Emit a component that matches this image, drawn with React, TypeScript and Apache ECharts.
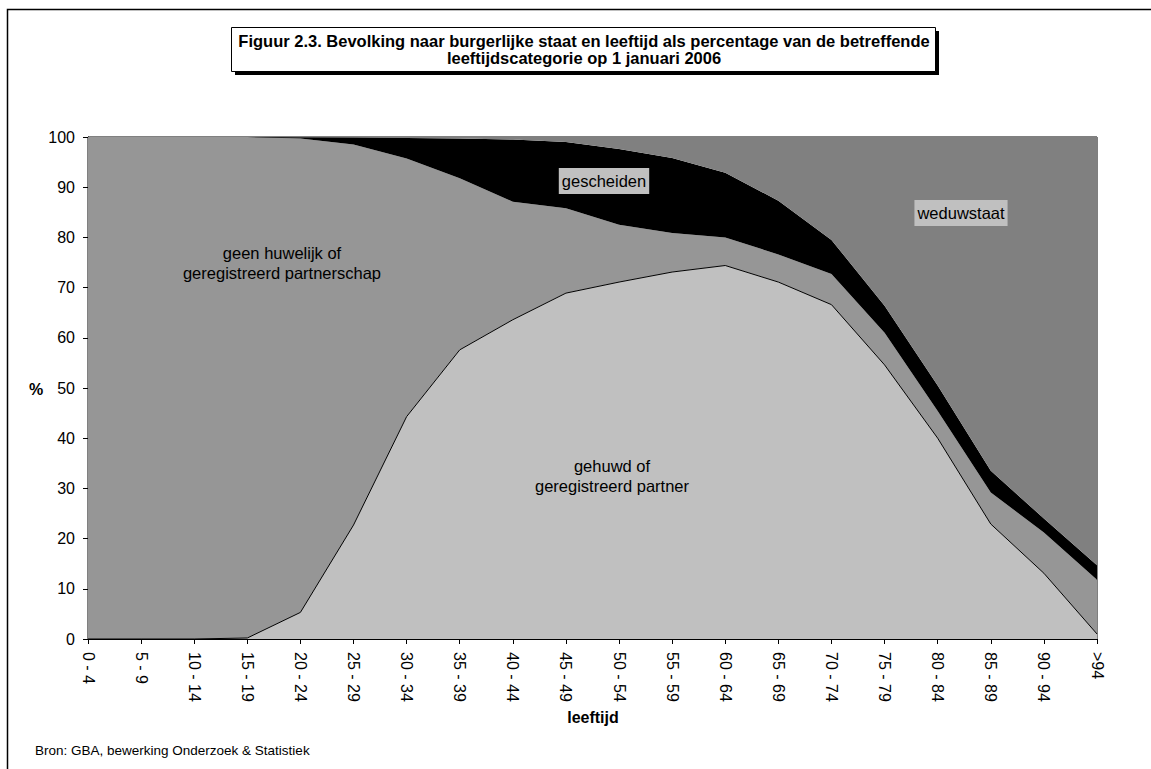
import React, { useEffect, useRef } from "react";
import * as echarts from "echarts";

const categories = [
  "0 - 4", "5 - 9", "10 - 14", "15 - 19", "20 - 24", "25 - 29", "30 - 34", "35 - 39",
  "40 - 44", "45 - 49", "50 - 54", "55 - 59", "60 - 64", "65 - 69", "70 - 74", "75 - 79",
  "80 - 84", "85 - 89", "90 - 94", ">94",
];

const gehuwd = [0, 0, 0, 0.2, 5.3, 22.7, 44.3, 57.6, 63.6, 68.9, 71.1, 73.1, 74.4, 71.1, 66.6, 54.6, 40.0, 22.9, 13.1, 1.0];
const geenHuwelijk = [100, 100, 100, 99.8, 94.4, 75.8, 51.4, 34.2, 23.5, 16.9, 11.4, 7.8, 5.6, 5.5, 6.1, 6.4, 5.4, 6.3, 8.1, 10.8];
const gescheiden = [0, 0, 0, 0, 0.25, 1.4, 4.1, 7.9, 12.4, 13.2, 15.1, 14.9, 12.9, 10.7, 6.8, 5.4, 5.1, 4.3, 2.8, 2.9];
const weduwstaat = [0, 0, 0, 0, 0.05, 0.1, 0.2, 0.3, 0.5, 1.0, 2.4, 4.2, 7.1, 12.7, 20.5, 33.6, 49.5, 66.5, 76.0, 85.3];

const FONT = "Arial, 'Liberation Sans', sans-serif";

export default function App() {
  const ref = useRef<HTMLDivElement>(null);
  useEffect(() => {
    if (!ref.current) return;
    const chart = echarts.init(ref.current, null, { renderer: "svg" });
    const areaSeries = (name: string, data: number[], color: string, line: boolean) => ({
      name,
      type: "line",
      stack: "total",
      data,
      symbol: "none",
      showSymbol: false,
      lineStyle: line ? { color: "#000", width: 1 } : { width: 0, opacity: 0 },
      areaStyle: { color, opacity: 1 },
      itemStyle: { color },
      silent: true,
    });
    chart.setOption({
      animation: false,
      backgroundColor: "#fff",
      textStyle: { fontFamily: FONT },
      grid: {
        left: 88,
        top: 137,
        right: 54,
        bottom: 130,
        show: true,
        borderColor: "#000",
        borderWidth: 1,
        backgroundColor: "transparent",
      },
      xAxis: {
        type: "category",
        data: categories,
        boundaryGap: false,
        axisLine: { lineStyle: { color: "#000", width: 1 } },
        axisTick: { show: true, length: 5, interval: 0, lineStyle: { color: "#000" } },
        axisLabel: {
          interval: 0,
          rotate: -90,
          color: "#000",
          fontSize: 16,
          fontFamily: FONT,
          margin: 13,
        },
        splitLine: { show: false },
      },
      yAxis: {
        type: "value",
        min: 0,
        max: 100,
        interval: 10,
        axisLine: { show: true, lineStyle: { color: "#000", width: 1 } },
        axisTick: { show: true, length: 5, lineStyle: { color: "#000" } },
        axisLabel: { color: "#000", fontSize: 16, fontFamily: FONT, margin: 13 },
        splitLine: { show: false },
      },
      series: [
        areaSeries("gehuwd of geregistreerd partner", gehuwd, "#c0c0c0", true),
        areaSeries("geen huwelijk of geregistreerd partnerschap", geenHuwelijk, "#969696", false),
        areaSeries("gescheiden", gescheiden, "#000000", false),
        areaSeries("weduwstaat", weduwstaat, "#808080", false),
      ],
      graphic: [
        {
          type: "rect",
          shape: { x: 7.5, y: 9.5, width: 1200, height: 800 },
          style: { fill: "none", stroke: "#000", lineWidth: 1.5 },
          silent: true,
          z: 100,
        },
        {
          type: "rect",
          shape: { x: 235, y: 31, width: 704, height: 44 },
          style: { fill: "#000" },
          z: 100,
        },
        {
          type: "rect",
          shape: { x: 231.5, y: 27.5, width: 704, height: 44 },
          style: { fill: "#fff", stroke: "#000", lineWidth: 1 },
          z: 101,
        },
        {
          type: "text",
          x: 584,
          y: 49.5,
          z: 102,
          style: {
            text: "Figuur 2.3. Bevolking naar burgerlijke staat en leeftijd als percentage van de betreffende\nleeftijdscategorie op 1 januari 2006",
            font: `bold 16.5px ${FONT}`,
            fill: "#000",
            align: "center",
            verticalAlign: "middle",
            lineHeight: 17,
          },
        },
        {
          type: "text",
          x: 282,
          y: 263,
          z: 102,
          style: {
            text: "geen huwelijk of\ngeregistreerd partnerschap",
            font: `16.5px ${FONT}`,
            fill: "#000",
            align: "center",
            verticalAlign: "middle",
            lineHeight: 20,
          },
        },
        {
          type: "text",
          x: 604,
          y: 181,
          z: 102,
          style: {
            text: "gescheiden",
            font: `16.5px ${FONT}`,
            fill: "#000",
            align: "center",
            verticalAlign: "middle",
            backgroundColor: "#c0c0c0",
            padding: [5, 3, 4, 3],
          },
        },
        {
          type: "text",
          x: 961,
          y: 213,
          z: 102,
          style: {
            text: "weduwstaat",
            font: `16.5px ${FONT}`,
            fill: "#000",
            align: "center",
            verticalAlign: "middle",
            backgroundColor: "#c0c0c0",
            padding: [5, 3, 4, 3],
          },
        },
        {
          type: "text",
          x: 612,
          y: 476,
          z: 102,
          style: {
            text: "gehuwd of\ngeregistreerd partner",
            font: `16.5px ${FONT}`,
            fill: "#000",
            align: "center",
            verticalAlign: "middle",
            lineHeight: 20,
          },
        },
        {
          type: "text",
          x: 36,
          y: 389,
          z: 102,
          style: {
            text: "%",
            font: `bold 16px ${FONT}`,
            fill: "#000",
            align: "center",
            verticalAlign: "middle",
          },
        },
        {
          type: "text",
          x: 593,
          y: 717,
          z: 102,
          style: {
            text: "leeftijd",
            font: `bold 16px ${FONT}`,
            fill: "#000",
            align: "center",
            verticalAlign: "middle",
          },
        },
        {
          type: "text",
          x: 35,
          y: 750,
          z: 102,
          style: {
            text: "Bron: GBA, bewerking Onderzoek & Statistiek",
            font: `13.5px ${FONT}`,
            fill: "#000",
            align: "left",
            verticalAlign: "middle",
          },
        },
      ],
    });
    return () => chart.dispose();
  }, []);
  return (
    <div
      ref={ref}
      style={{ position: "fixed", left: 0, top: 0, width: 1151, height: 769, background: "#fff" }}
    />
  );
}
